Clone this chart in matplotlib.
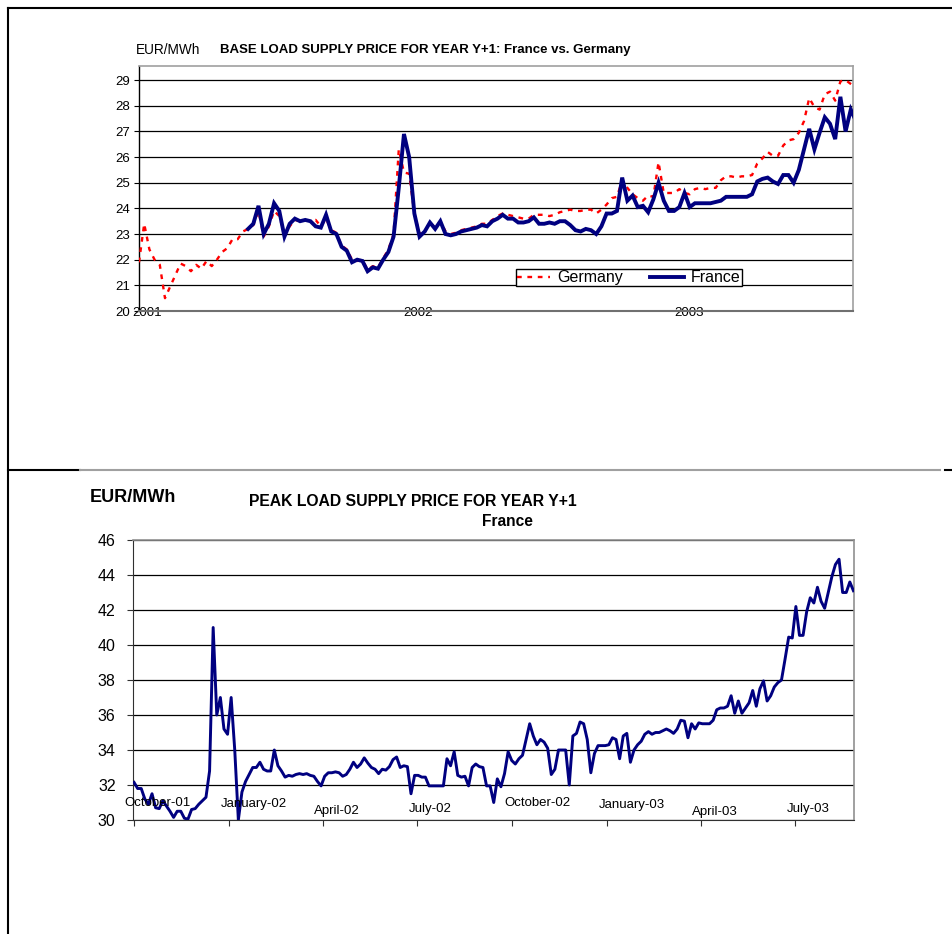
import matplotlib
matplotlib.use('Agg')
import matplotlib.pyplot as plt
from matplotlib.lines import Line2D
import pandas as pd

plt.rcParams['font.family'] = ['Liberation Sans', 'DejaVu Sans']

# ---------------- DATA ----------------
# Base load, weekly readings
germany_start = '2000-12-21'
germany_base = [
    21.9, 23.4, 22.4, 22.0, 21.8, 20.5, 20.95, 21.4, 21.85, 21.75, 21.55, 21.8, 21.65, 21.95, 21.75,
    22.0, 22.3, 22.45, 22.8, 22.8, 23.1,
    23.2, 23.35, 23.9, 22.9, 23.3, 23.9, 23.7, 23.0, 23.3, 23.55, 23.5, 23.55, 23.5, 23.55, 23.3,
    23.6, 23.15, 23.05, 22.55, 22.4, 22.0, 21.95, 22.0, 21.6, 21.75, 21.7, 22.05, 22.4, 23.0, 26.3,
    25.4, 25.35, 23.8, 23.0,
    23.1, 23.45, 23.25, 23.5, 23.1, 23.0, 23.05, 23.15, 23.2, 23.25, 23.3, 23.4, 23.4, 23.55, 23.7,
    23.8, 23.75, 23.7, 23.65, 23.6, 23.6, 23.75, 23.75, 23.75, 23.7, 23.75, 23.85, 23.9, 23.95, 23.9,
    23.9, 23.95, 23.95, 23.8, 23.95, 24.15, 24.4, 24.45, 25.1, 24.8, 24.55, 24.4, 24.3, 24.5, 24.45,
    25.8, 24.6, 24.6, 24.6, 24.75, 24.6, 24.55, 24.75, 24.8, 24.75, 24.8, 24.8, 25.1, 25.25, 25.25,
    25.2, 25.25, 25.25, 25.3, 25.75, 25.95, 26.2, 26.05, 26.05, 26.45, 26.65, 26.7, 26.95, 27.4, 28.3,
    27.95, 27.85, 28.45, 28.55, 28.2, 28.95, 29.0, 28.85, 28.7]

france_base_start = '2001-05-17'
france_base = [
    23.2, 23.4, 24.1, 23.0, 23.4, 24.2, 23.9, 22.9, 23.4, 23.6, 23.5, 23.55, 23.5, 23.3, 23.25,
    23.75, 23.1, 23.0, 22.5, 22.35, 21.9, 22.0, 21.95, 21.55, 21.7, 21.65, 22.0, 22.3, 22.9, 24.8,
    26.9, 26.0, 23.8, 22.9,
    23.1, 23.45, 23.2, 23.5, 23.0, 22.95, 23.0, 23.1, 23.15, 23.2, 23.25, 23.35, 23.3, 23.5, 23.6,
    23.75, 23.6, 23.6, 23.45, 23.45, 23.5, 23.65, 23.4, 23.4, 23.45, 23.4, 23.5, 23.5, 23.35, 23.15,
    23.1, 23.2, 23.15, 23.0, 23.3, 23.8, 23.8, 23.9, 25.2, 24.3, 24.5, 24.05, 24.1, 23.85, 24.35,
    25.0, 24.3, 23.9, 23.9, 24.05, 24.6, 24.05, 24.2, 24.2, 24.2, 24.2, 24.25, 24.3, 24.45, 24.45,
    24.45, 24.45, 24.45, 24.55, 25.05, 25.15, 25.2, 25.05, 24.95, 25.3, 25.3, 25.0, 25.5, 26.3, 27.1,
    26.3, 26.95, 27.55, 27.3, 26.7, 28.35, 27.0, 27.85, 27.4]

base_year_ticks = ['2001-01-01', '2002-01-01', '2003-01-01']
base_year_labels = ['2001', '2002', '2003']
base_yticks = list(range(20, 30))

# Peak load, readings every ~3.5 days
france_peak_start = '2001-10-01'
france_peak = [
    32.15, 31.8, 31.8, 31.2, 30.9, 31.5, 30.7, 30.65, 31.1, 30.8,
    30.5, 30.15, 30.5, 30.5, 30.1, 30.05, 30.6, 30.65, 30.9, 31.1,
    31.3, 32.8, 41.0, 36.0, 37.0, 35.2, 34.9, 37.0, 34.0, 30.0,
    31.6, 32.2, 32.6, 33.0, 33.0, 33.3, 32.9, 32.8, 32.8, 34.0,
    33.1, 32.8, 32.45, 32.55, 32.5, 32.6, 32.65, 32.6, 32.65, 32.55,
    32.5, 32.2, 31.95, 32.5, 32.7, 32.7, 32.75, 32.7, 32.5, 32.6,
    32.9, 33.3, 33.0, 33.2, 33.55, 33.25, 33.0, 32.9, 32.65, 32.9,
    32.85, 33.05, 33.45, 33.6, 33.0, 33.1, 33.05, 31.5, 32.55, 32.55,
    32.45, 32.45, 31.95, 31.95, 31.95, 31.95, 31.95, 33.5, 33.1, 33.9,
    32.55, 32.45, 32.5, 31.95, 33.0, 33.2, 33.05, 33.0, 31.95, 31.95,
    31.0, 32.35, 31.9, 32.65, 33.9, 33.4, 33.2, 33.5, 33.7, 34.6,
    35.5, 34.8, 34.3, 34.6, 34.45, 34.1, 32.6, 32.9, 34.0, 34.0,
    34.0, 32.0, 34.8, 34.95, 35.6, 35.5, 34.6, 32.7, 33.8, 34.25,
    34.25, 34.25, 34.3, 34.7, 34.6, 33.5, 34.8, 34.95, 33.3, 34.0,
    34.3, 34.5, 34.9, 35.05, 34.9, 35.0, 35.0, 35.1, 35.2, 35.1,
    34.95, 35.2, 35.7, 35.65, 34.7, 35.5, 35.2, 35.55, 35.5, 35.5,
    35.5, 35.7, 36.3, 36.4, 36.4, 36.5, 37.1, 36.1, 36.8, 36.1,
    36.4, 36.7, 37.4, 36.5, 37.5, 37.95, 36.8, 37.1, 37.6, 37.85,
    38.0, 39.2, 40.45, 40.4, 42.2, 40.55, 40.55, 41.9, 42.7, 42.4,
    43.3, 42.5, 42.1, 43.0, 43.9, 44.6, 44.9, 43.0, 43.0, 43.6,
    43.1]

peak_qtr_ticks = ['2001-10-01', '2002-01-01', '2002-04-01', '2002-07-01',
                  '2002-10-01', '2003-01-01', '2003-04-01', '2003-07-01']
peak_qtr_labels = ['October-01', 'January-02', 'April-02', 'July-02',
                   'October-02', 'January-03', 'April-03', 'July-03']
peak_yticks = list(range(30, 47, 2))

# ---------------- FIGURE ----------------
W, H = 953, 934
fig = plt.figure(figsize=(W / 100, H / 100), dpi=100)


def fx(px):
    return px / W


def fy(py):
    return 1 - py / H


NAVY = '#000080'

# frame lines
for (x0, y0, x1, y1, c) in [(8, 8, 953, 8, 'black'), (8, 8, 8, 934, 'black'),
                            (8, 470, 80, 470, 'black'), (80, 470, 940, 470, '#a0a0a0'),
                            (945, 470, 953, 470, 'black')]:
    fig.add_artist(Line2D([fx(x0), fx(x1)], [fy(y0), fy(y1)], color=c, lw=1.5,
                          transform=fig.transFigure))

# ---------- top chart ----------
ax1 = fig.add_axes([fx(139), fy(311), fx(853) - fx(139), (311 - 66) / H])
g_dates = pd.date_range(germany_start, periods=len(germany_base), freq='7D')
f_dates = pd.date_range(france_base_start, periods=len(france_base), freq='7D')
ax1.plot(g_dates, germany_base, color='red', lw=1.7, ls=(0, (2.0, 2.4)), label='Germany', zorder=3)
ax1.plot(f_dates, france_base, color=NAVY, lw=2.8, label='France', zorder=4,
         solid_joinstyle='miter')
ax1.set_xlim(pd.Timestamp('2000-12-21'), pd.Timestamp('2003-08-10'))
ax1.set_ylim(20, 29.55)
ax1.set_yticks(base_yticks)
ax1.yaxis.grid(True, color='black', lw=0.9)
ax1.set_axisbelow(True)
ax1.set_xticks(pd.to_datetime(base_year_ticks))
ax1.set_xticklabels(base_year_labels)
ax1.tick_params(axis='x', length=0, pad=-3, labelsize=9.5)
ax1.tick_params(axis='y', length=3.5, width=0.8, pad=3, labelsize=9.5, direction='out')
for s in ['top', 'right']:
    ax1.spines[s].set_color('#a0a0a0')
    ax1.spines[s].set_linewidth(1.2)
ax1.spines['bottom'].set_color('#707070')
ax1.spines['bottom'].set_linewidth(1.5)
ax1.spines['left'].set_color('black')
ax1.spines['left'].set_linewidth(1.0)

leg = ax1.legend(loc='lower left', bbox_to_anchor=(fx(516), fy(286)),
                 bbox_transform=fig.transFigure, ncol=2, frameon=True, fancybox=False,
                 edgecolor='black', framealpha=1, fontsize=11.5, borderpad=0.05,
                 handlelength=2.1, handletextpad=0.45, columnspacing=1.7, borderaxespad=0)
leg.get_frame().set_linewidth(1.0)
leg.set_zorder(10)

fig.text(fx(136), fy(50), 'EUR/MWh', fontsize=9.8, ha='left', va='center')
fig.text(fx(220), fy(50), 'BASE LOAD SUPPLY PRICE FOR YEAR Y+1: France vs. Germany',
         fontsize=9.5, weight='bold', ha='left', va='center')

# ---------- bottom chart ----------
ax2 = fig.add_axes([fx(133), fy(820), fx(854) - fx(133), (820 - 540) / H])
p_dates = pd.date_range(france_peak_start, periods=len(france_peak), freq='5000min')
ax2.plot(p_dates, france_peak, color=NAVY, lw=2.1, zorder=4)
ax2.set_xlim(pd.Timestamp('2001-09-30'), pd.Timestamp('2001-10-01') + pd.Timedelta(days=695))
ax2.set_ylim(30, 46)
ax2.set_yticks(peak_yticks)
ax2.yaxis.grid(True, color='black', lw=0.9)
ax2.set_axisbelow(True)
ax2.set_xticks(pd.to_datetime(peak_qtr_ticks))
ax2.set_xticklabels([])
ax2.tick_params(axis='x', length=4.5, width=0.8, direction='out', color='#303030')
ax2.tick_params(axis='y', length=4.5, width=0.8, pad=8, labelsize=11.5, direction='out',
                color='#303030')
for s in ['top', 'right']:
    ax2.spines[s].set_color('#909090')
    ax2.spines[s].set_linewidth(1.2)
ax2.spines['bottom'].set_color('#303030')
ax2.spines['left'].set_color('#303030')

# month labels (drawn inside the plot, as in the source)
lbl_dx = [23, 25, 14, 13, 25, 24, 14, 13]        # px right of tick
lbl_dy = [16.5, 15.5, 9, 11, 16.5, 15, 8, 11]     # px above axis
for d, t, dx, dy in zip(peak_qtr_ticks, peak_qtr_labels, lbl_dx, lbl_dy):
    ax2.annotate(t, xy=(pd.Timestamp(d), 30), xycoords='data',
                 xytext=(dx * 0.72, dy * 0.72), textcoords='offset points',
                 ha='center', va='center', fontsize=9.5, zorder=5,
                 annotation_clip=False)

fig.text(fx(90), fy(497), 'EUR/MWh', fontsize=13, weight='bold', ha='left', va='center')
fig.text(fx(413), fy(501), 'PEAK LOAD SUPPLY PRICE FOR YEAR Y+1', fontsize=11.3,
         weight='bold', ha='center', va='center')
fig.text(fx(507), fy(521), 'France', fontsize=11.2, weight='bold', ha='center', va='center')

fig.savefig('out.png', dpi=100)
